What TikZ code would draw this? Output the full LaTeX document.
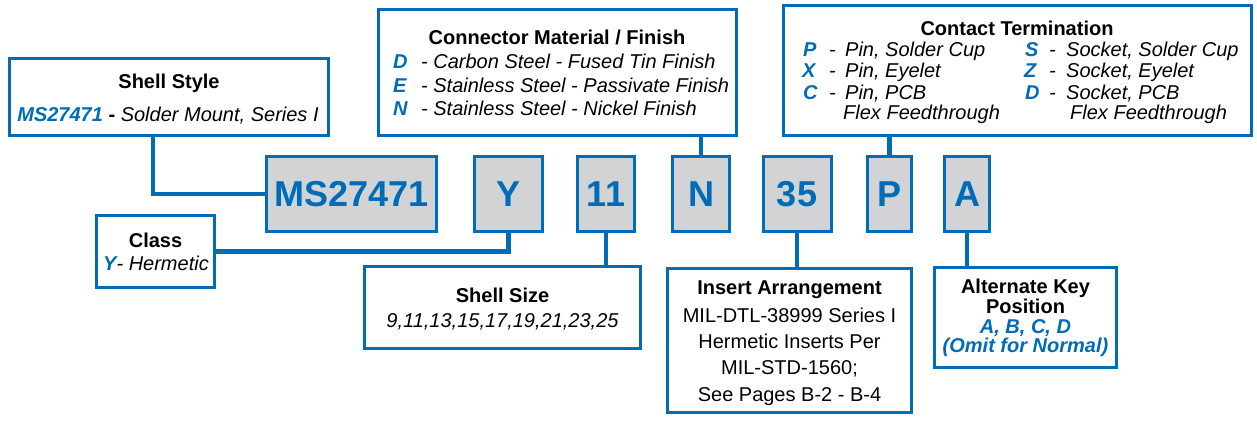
\documentclass[tikz,border=0pt]{standalone}
\usepackage{fontspec}
\setmainfont{Liberation Sans}
\definecolor{cblue}{HTML}{006BB6}
\definecolor{cgrey}{HTML}{D1D3D4}
\begin{document}
\begin{tikzpicture}[x=1pt,y=-1pt,
  box/.style={draw=cblue, line width=3pt, fill=white, inner sep=0pt},
  code/.style={draw=cblue, line width=3pt, fill=cgrey, inner sep=0pt, minimum height=75pt,
    text=cblue, font=\fontsize{36}{40}\selectfont\bfseries},
  link/.style={draw=cblue, line width=4.5pt},
  txt/.style={inner sep=0pt, anchor=base, font=\fontsize{20}{24}\selectfont},
  ttl/.style={txt, font=\fontsize{20}{24}\selectfont\bfseries},
  it/.style={txt, font=\fontsize{20}{24}\selectfont\itshape},
  key/.style={txt, text=cblue, font=\fontsize{20}{24}\selectfont\bfseries\itshape}]
\useasboundingbox (0,0) rectangle (1257,423);
% boxes
\node[box, minimum width=319pt, minimum height=77pt] (shellstyle) at (169,97) {};
\node[box, minimum width=358pt, minimum height=126pt] (material) at (557.5,72.5) {};
\node[box, minimum width=468pt, minimum height=130pt] (contact) at (1017.5,70.5) {};
\node[box, minimum width=118pt, minimum height=72pt] (class) at (155.5,251.5) {};
\node[box, minimum width=276pt, minimum height=82pt] (size) at (502.5,307.5) {};
\node[box, minimum width=244pt, minimum height=144pt] (insert) at (789.5,340.5) {};
\node[box, minimum width=182pt, minimum height=100pt] (altkey) at (1025.5,317.5) {};
% code boxes
\node[code, minimum width=170pt] (ms) at (351.5,194) {MS27471};
\node[code, minimum width=68pt] (cy) at (508.5,194) {Y};
\node[code, minimum width=57pt] (c11) at (606,194) {11};
\node[code, minimum width=57pt] (cn) at (701,194) {N};
\node[code, minimum width=68pt] (c35) at (797,194) {35};
\node[code, minimum width=44pt] (cp) at (889.5,194) {P};
\node[code, minimum width=45pt] (ca) at (967,194) {A};
% connectors
\coordinate (ssdrop) at (153,137);
\draw[link] (ssdrop) |- (ms.west);
\draw[link] (cy.south) |- (class.east);
\draw[link] (c11.south) -- (c11.south |- size.north);
\draw[link] (cn.north) -- (cn.north |- material.south);
\draw[link] (c35.south) -- (c35.south |- insert.north);
\draw[link] (cp.north) -- (cp.north |- contact.south);
\draw[link] (ca.south) -- (ca.south |- altkey.north);
% Shell Style
\node[ttl] (sst) at (169,88) {Shell Style};
\node[txt] (ssl) at (168,121) {{\bfseries\itshape\color{cblue}MS27471} {\bfseries -} {\itshape Solder Mount, Series I}};
% Class
\node[ttl] (clt) at (155.5,247) {Class};
\node[txt] (cll) at (156,270) {{\bfseries\itshape\color{cblue}Y}{\itshape - Hermetic}};
% Connector Material
\node[ttl] (mt) at (557,44) {Connector Material / Finish};
\node[key, anchor=base west] (mk1) at (393,68) {D};
\node[key, anchor=base west] (mk2) at (393,92) {E};
\node[key, anchor=base west] (mk3) at (393,115) {N};
\node[it, anchor=base west] (md1) at (421,68) {- Carbon Steel - Fused Tin Finish};
\node[it, anchor=base west] (md2) at (421,92) {- Stainless Steel - Passivate Finish};
\node[it, anchor=base west] (md3) at (421,115) {- Stainless Steel - Nickel Finish};
% Contact Termination
\node[ttl] (ct) at (1017,35) {Contact Termination};
\node[key, anchor=base west] (ck1) at (803,56) {P};
\node[key, anchor=base west] (ck2) at (802,77) {X};
\node[key, anchor=base west] (ck3) at (803,99) {C};
\node[it, anchor=base west] (cd1) at (829,56) {-};
\node[it, anchor=base west] (cd2) at (829,77) {-};
\node[it, anchor=base west] (cd3) at (829,99) {-};
\node[it, anchor=base west] (cx1) at (845,56) {Pin, Solder Cup};
\node[it, anchor=base west] (cx2) at (845,77) {Pin, Eyelet};
\node[it, anchor=base west] (cx3) at (845,99) {Pin, PCB};
\node[it, anchor=base west] (cx4) at (843,119) {Flex Feedthrough};
\node[key, anchor=base west] (ck4) at (1025,56) {S};
\node[key, anchor=base west] (ck5) at (1024,77) {Z};
\node[key, anchor=base west] (ck6) at (1025,99) {D};
\node[it, anchor=base west] (cd4) at (1049,56) {-};
\node[it, anchor=base west] (cd5) at (1049,77) {-};
\node[it, anchor=base west] (cd6) at (1049,99) {-};
\node[it, anchor=base west] (cy1) at (1066,56) {Socket, Solder Cup};
\node[it, anchor=base west] (cy2) at (1066,77) {Socket, Eyelet};
\node[it, anchor=base west] (cy3) at (1066,99) {Socket, PCB};
\node[it, anchor=base west] (cy4) at (1070,119) {Flex Feedthrough};
% Shell Size
\node[ttl] (szt) at (502.5,302) {Shell Size};
\node[it] (szl) at (502.5,327) {9,11,13,15,17,19,21,23,25};
% Insert Arrangement
\node[ttl] (iat) at (789.5,294) {Insert Arrangement};
\node[txt] (ia1) at (789.5,322) {MIL-DTL-38999 Series I};
\node[txt] (ia2) at (789.5,348) {Hermetic Inserts Per};
\node[txt] (ia3) at (789.5,374) {MIL-STD-1560;};
\node[txt] (ia4) at (789.5,401) {See Pages B-2 - B-4};
% Alternate Key
\node[ttl] (akt1) at (1025.5,293) {Alternate Key};
\node[ttl] (akt2) at (1025.5,313) {Position};
\node[key] (ak1) at (1025.5,333) {A, B, C, D};
\node[key] (ak2) at (1025.5,352) {(Omit for Normal)};
\end{tikzpicture}
\end{document}
